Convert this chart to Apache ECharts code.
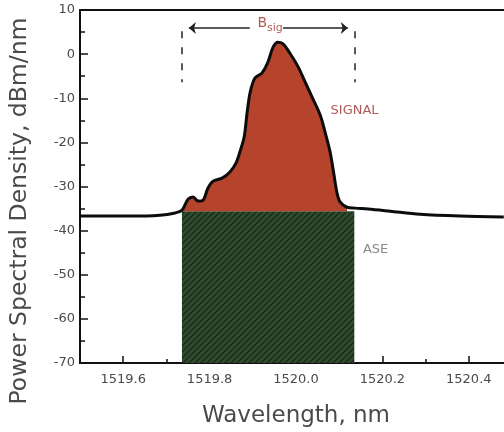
<!DOCTYPE html>
<html>
<head>
<meta charset="utf-8">
<script src="https://cdn.jsdelivr.net/npm/echarts@6/dist/echarts.min.js"></script>
<style>
  html, body { margin: 0; padding: 0; background: #fff; }
  #chart { width: 504px; height: 432px; }
</style>
</head>
<body>
<div id="chart"></div>
<script>
// spectrum
var wavelength = [1519.500, 1519.616, 1519.685, 1519.720, 1519.736, 1519.750, 1519.762, 1519.773,
  1519.785, 1519.796, 1519.808, 1519.829, 1519.847, 1519.861, 1519.870, 1519.880, 1519.887,
  1519.894, 1519.905, 1519.921, 1519.935, 1519.947, 1519.958, 1519.970, 1519.986, 1520.005,
  1520.021, 1520.037, 1520.056, 1520.069, 1520.079, 1520.088, 1520.095, 1520.102, 1520.118,
  1520.137, 1520.167, 1520.218, 1520.287, 1520.380, 1520.481];
var psd = [-36.7, -36.7, -36.5, -36.0, -35.4, -32.9, -32.4, -33.3,
  -33.1, -30.4, -28.8, -28.1, -26.7, -24.7, -22.2, -18.8, -13.1,
  -8.6, -5.4, -4.3, -1.8, 1.6, 2.7, 2.3, 0.2, -2.9,
  -6.3, -9.7, -13.8, -18.3, -22.2, -27.4, -31.5, -33.5, -34.7,
  -34.9, -35.1, -35.6, -36.3, -36.7, -36.9];

var aseBand = [1519.736, 1520.135];   // B_sig edges
var aseLevel = -35.6;

var xMajorTicks = [1519.6, 1519.8, 1520.0, 1520.2, 1520.4];
var xMinorTicks = [1519.7, 1519.9, 1520.1, 1520.3];

var curve = wavelength.map(function (w, i) { return [w, psd[i]]; });
var signalFill = curve.filter(function (p) { return p[0] >= aseBand[0] && p[0] <= aseBand[1]; });
var aseFill = [[aseBand[0], aseLevel], [aseBand[1], aseLevel]];

// hatch pattern for the ASE block
var hatch = document.createElement('canvas');
hatch.width = 6; hatch.height = 6;
(function () {
  var c = hatch.getContext('2d');
  c.fillStyle = '#2f4b2f';
  c.fillRect(0, 0, 6, 6);
  c.strokeStyle = '#142214';
  c.lineWidth = 1.1;
  c.beginPath();
  c.moveTo(0, 6); c.lineTo(6, 0);
  c.moveTo(-3, 3); c.lineTo(3, -3);
  c.moveTo(3, 9); c.lineTo(9, 3);
  c.stroke();
})();

var font = 'DejaVu Sans';
var txt = '#4a4a4a';

var chart = echarts.init(document.getElementById('chart'));
chart.setOption({
  animation: false,
  grid: { left: 80, right: -8, top: 10, bottom: 69, outerBoundsMode: 'none',
    show: true, borderColor: '#111', borderWidth: 2 },
  xAxis: [{
    type: 'value', min: 1519.5, max: 1520.5,
    name: 'Wavelength, nm', nameLocation: 'middle', nameGap: 42,
    nameTextStyle: { fontFamily: font, fontSize: 23, color: txt },
    axisLine: { onZero: false, lineStyle: { color: '#111', width: 2 } },
    axisTick: { inside: true, length: 7, customValues: xMajorTicks, lineStyle: { color: '#111', width: 1.5 } },
    axisLabel: { customValues: xMajorTicks, margin: 10, fontFamily: font, fontSize: 13, color: txt,
      formatter: function (v) { return v.toFixed(1); } },
    splitLine: { show: false }
  }, {
    type: 'value', min: 1519.5, max: 1520.5, position: 'bottom',
    axisLine: { show: false, onZero: false },
    axisTick: { inside: true, length: 4, customValues: xMinorTicks, lineStyle: { color: '#111', width: 1.5 } },
    axisLabel: { show: false },
    splitLine: { show: false }
  }],
  yAxis: {
    type: 'value', min: -70, max: 10, interval: 10,
    axisLine: { lineStyle: { color: '#111', width: 2 } },
    axisTick: { inside: true, length: 8, lineStyle: { color: '#111', width: 1.5 } },
    minorTick: { show: true, splitNumber: 2, length: 5, lineStyle: { color: '#111', width: 1.5 } },
    axisLabel: { margin: 5, fontFamily: font, fontSize: 13, color: txt },
    splitLine: { show: false }
  },
  series: [{
    name: 'ASE', type: 'line', data: aseFill, symbol: 'none', z: 1,
    lineStyle: { width: 0 },
    areaStyle: { origin: 'start', opacity: 1, color: { image: hatch, repeat: 'repeat' } }
  }, {
    name: 'SIGNAL', type: 'line', data: signalFill, symbol: 'none', z: 2,
    lineStyle: { width: 0 },
    areaStyle: { origin: aseLevel, opacity: 1, color: '#b6432b' }
  }, {
    name: 'spectrum', type: 'line', data: curve, symbol: 'none', smooth: 0.3, z: 3,
    lineStyle: { color: '#0c0c0c', width: 3 },
    markLine: {
      silent: true, symbol: 'none', label: { show: false },
      lineStyle: { color: '#222', width: 1.5, type: [7, 9] },
      data: [
        [{ coord: [aseBand[0], 5.2] }, { coord: [aseBand[0], -6.4] }],
        [{ coord: [aseBand[1], 5.2] }, { coord: [aseBand[1], -6.4] }]
      ]
    }
  }, {
    name: 'arrows', type: 'line', data: [], symbol: 'none',
    markLine: {
      silent: true, symbol: ['none', 'arrow'], symbolSize: [9, 7], label: { show: false },
      lineStyle: { color: '#222', width: 1.5, type: 'solid' },
      data: [
        [{ coord: [1519.893, 5.9] }, { coord: [1519.752, 5.9] }],
        [{ coord: [1519.970, 5.9] }, { coord: [1520.120, 5.9] }]
      ]
    }
  }]
});

// text labels placed in data coordinates
function at(x, y) { return chart.convertToPixel({ gridIndex: 0 }, [x, y]); }
var pB = at(1519.940, 7.0), pS = at(1520.080, -12.7), pA = at(1520.155, -44.4);
chart.setOption({
  graphic: [{
    type: 'text', x: 20, y: 211, rotation: Math.PI / 2,
    style: { text: 'Power Spectral Density, dBm/nm', fontFamily: font, fontSize: 23.5, fill: txt,
      align: 'center', verticalAlign: 'middle' }
  }, {
    type: 'text', x: pB[0], y: pB[1],
    style: { text: '{b|B}{s|sig}', fill: '#b05a50', align: 'center', verticalAlign: 'middle',
      rich: { b: { fontFamily: font, fontSize: 14, fill: '#b05a50', verticalAlign: 'middle' },
              s: { fontFamily: font, fontSize: 11, fill: '#b05a50', padding: [9, 0, 0, 0] } } }
  }, {
    type: 'text', x: pS[0], y: pS[1],
    style: { text: 'SIGNAL', fontFamily: font, fontSize: 13, fill: '#b05a58', verticalAlign: 'middle' }
  }, {
    type: 'text', x: pA[0], y: pA[1],
    style: { text: 'ASE', fontFamily: font, fontSize: 13, fill: '#8a8a8a', verticalAlign: 'middle' }
  }]
});
</script>
</body>
</html>
